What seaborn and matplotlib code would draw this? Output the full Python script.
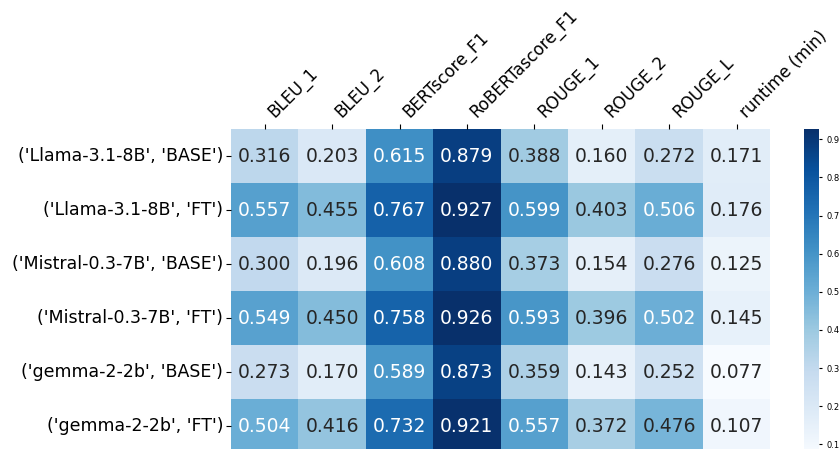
import matplotlib
matplotlib.use("Agg")
import matplotlib.pyplot as plt
import seaborn as sns
import pandas as pd
import numpy as np

rows = ["('Llama-3.1-8B', 'BASE')", "('Llama-3.1-8B', 'FT')",
        "('Mistral-0.3-7B', 'BASE')", "('Mistral-0.3-7B', 'FT')",
        "('gemma-2-2b', 'BASE')", "('gemma-2-2b', 'FT')"]
cols = ["BLEU_1", "BLEU_2", "BERTscore_F1", "RoBERTascore_F1",
        "ROUGE_1", "ROUGE_2", "ROUGE_L", "runtime (min)"]

bleu_1 = [0.316, 0.557, 0.300, 0.549, 0.273, 0.504]
bleu_2 = [0.203, 0.455, 0.196, 0.450, 0.170, 0.416]
bertscore_f1 = [0.615, 0.767, 0.608, 0.758, 0.589, 0.732]
robertascore_f1 = [0.879, 0.927, 0.880, 0.926, 0.873, 0.921]
rouge_1 = [0.388, 0.599, 0.373, 0.593, 0.359, 0.557]
rouge_2 = [0.160, 0.403, 0.154, 0.396, 0.143, 0.372]
rouge_l = [0.272, 0.506, 0.276, 0.502, 0.252, 0.476]
runtime = [0.171, 0.176, 0.125, 0.145, 0.077, 0.107]

df = pd.DataFrame(
    {c: v for c, v in zip(cols, [bleu_1, bleu_2, bertscore_f1, robertascore_f1,
                                 rouge_1, rouge_2, rouge_l, runtime])},
    index=rows)

fig = plt.figure(figsize=(8.4, 4.49), dpi=100)
ax = fig.add_axes([0.275, -0.009, 0.642, 0.7216])
cax = fig.add_axes([0.957, -0.009, 0.018, 0.7216])

sns.heatmap(df, ax=ax, cbar_ax=cax, cmap="Blues", annot=True, fmt=".3f",
            annot_kws={"fontsize": 13.5})

ax.xaxis.tick_top()
ax.set_xticklabels(cols, rotation=45, ha="left", fontsize=12)
ax.set_yticklabels(rows, rotation=0, fontsize=12.5)
ax.tick_params(axis="x", length=3.5, pad=2)
ax.tick_params(axis="y", length=3.5, pad=2)
cax.tick_params(labelsize=6, length=2)

fig.savefig("out.png", dpi=100)
